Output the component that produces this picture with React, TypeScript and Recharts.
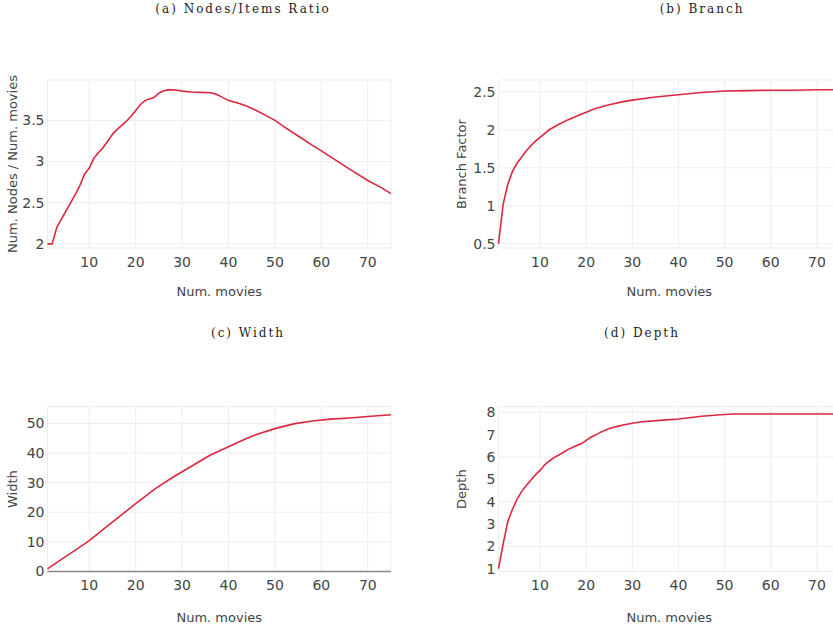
import { CartesianGrid, Line, LineChart, ReferenceLine, XAxis, YAxis } from 'recharts';

const FONT = 'DejaVu Sans';
const RED = '#dc2741';

// (a) nodes / items ratio
const ratioMovies = [1, 2, 3, 4, 5, 6, 7, 8, 9, 10, 11, 12, 13, 14, 15, 16, 17, 18, 19, 20, 21, 22, 23, 24, 25, 26, 27, 28, 29, 30, 32, 34, 36, 37, 38, 39, 40, 42, 44, 46, 48, 50, 52, 55, 58, 60, 63, 66, 70, 73, 75];
const ratioValues = [2.0, 2.0, 2.2, 2.3, 2.4, 2.5, 2.6, 2.71, 2.85, 2.92, 3.04, 3.11, 3.17, 3.25, 3.33, 3.39, 3.44, 3.49, 3.55, 3.62, 3.69, 3.74, 3.76, 3.78, 3.83, 3.86, 3.87, 3.87, 3.865, 3.855, 3.845, 3.84, 3.835, 3.825, 3.8, 3.77, 3.74, 3.71, 3.67, 3.62, 3.56, 3.5, 3.42, 3.31, 3.2, 3.13, 3.02, 2.91, 2.77, 2.68, 2.61];

// (b) branch factor
const branchMovies = [1, 2, 3, 4, 5, 6, 7, 8, 9, 10, 12, 14, 16, 18, 20, 22, 25, 28, 30, 35, 40, 45, 50, 55, 60, 65, 70, 75];
const branchValues = [0.5, 1.02, 1.28, 1.45, 1.56, 1.64, 1.72, 1.79, 1.85, 1.9, 2.0, 2.07, 2.13, 2.18, 2.23, 2.28, 2.33, 2.37, 2.39, 2.43, 2.46, 2.49, 2.51, 2.515, 2.52, 2.52, 2.525, 2.525];

// (c) width
const widthMovies = [1, 4, 7, 10, 13, 16, 20, 24, 28, 31, 36, 40, 43, 46, 50, 54, 58, 62, 66, 70, 75];
const widthValues = [0.9, 4.1, 7.2, 10.4, 14.2, 17.9, 22.9, 27.7, 31.8, 34.6, 39.2, 42.1, 44.3, 46.2, 48.2, 49.8, 50.8, 51.4, 51.8, 52.3, 52.9];

// (d) depth
const depthMovies = [1, 2, 3, 4, 5, 6, 7, 8, 9, 10, 11, 12, 13, 14, 15, 16, 17, 18, 19, 20, 21, 22, 23, 24, 25, 26, 27, 28, 30, 32, 36, 40, 45, 49, 52, 60, 70, 75];
const depthValues = [1.0, 2.1, 3.1, 3.65, 4.1, 4.45, 4.72, 4.96, 5.2, 5.4, 5.65, 5.82, 5.97, 6.08, 6.2, 6.33, 6.42, 6.51, 6.6, 6.74, 6.88, 6.98, 7.1, 7.19, 7.27, 7.33, 7.38, 7.43, 7.51, 7.58, 7.64, 7.7, 7.82, 7.89, 7.92, 7.92, 7.92, 7.92];

const xTicks = [10, 20, 30, 40, 50, 60, 70];
const ratioTicks = [2, 2.5, 3, 3.5];
const branchTicks = [0.5, 1, 1.5, 2, 2.5];
const widthTicks = [0, 10, 20, 30, 40, 50];
const depthTicks = [1, 2, 3, 4, 5, 6, 7, 8];

const titles = ['(a) Nodes/Items Ratio', '(b) Branch', '(c) Width', '(d) Depth'];

const toRows = (xs: number[], ys: number[]) => xs.map((x, i) => ({ x, y: ys[i] }));

interface PanelProps {
	left: number;
	top: number;
	height: number;
	margin: { top: number; right: number; bottom: number; left: number };
	yWidth: number;
	xHeight: number;
	data: { x: number; y: number }[];
	yDomain: [number, number];
	yTicks: number[];
	yLabel: string;
	yLabelOffset: number;
	xLabelOffset: number;
	zeroLine?: boolean;
}

const Panel = (p: PanelProps) => {
	const tick = { fill: '#444', fontSize: 14, fontFamily: FONT };
	return (
		<div style={{ position: 'absolute', left: p.left, top: p.top }}>
			<LineChart width={420} height={p.height} data={p.data} margin={p.margin}>
				<CartesianGrid stroke='#ededed' />
				<XAxis
					dataKey='x'
					type='number'
					domain={[1, 75]}
					ticks={xTicks}
					height={p.xHeight}
					axisLine={false}
					tickLine={false}
					tickSize={0}
					tickMargin={9}
					tick={tick}
					label={{
						value: 'Num. movies',
						position: 'insideBottom',
						offset: p.xLabelOffset,
						style: { fill: '#444', fontSize: 13, fontFamily: FONT },
					}}
				/>
				<YAxis
					type='number'
					domain={p.yDomain}
					ticks={p.yTicks}
					width={p.yWidth}
					axisLine={false}
					tickLine={false}
					tickSize={0}
					tickMargin={3}
					tick={tick}
					allowDataOverflow
					label={{
						value: p.yLabel,
						angle: -90,
						position: 'insideLeft',
						offset: p.yLabelOffset,
						style: { textAnchor: 'middle', fill: '#444', fontSize: 13, fontFamily: FONT },
					}}
				/>
				{p.zeroLine && <ReferenceLine y={0} stroke='#8a8a8a' strokeWidth={1.5} />}
				<Line
					dataKey='y'
					type='linear'
					stroke={RED}
					strokeWidth={1.6}
					dot={false}
					isAnimationActive={false}
				/>
			</LineChart>
		</div>
	);
};

const titleStyle = (cx: number, cy: number): React.CSSProperties => ({
	position: 'absolute',
	left: cx,
	top: cy - 7,
	transform: 'translateX(-50%)',
	whiteSpace: 'nowrap',
	fontFamily: 'DejaVu Serif',
	fontSize: 12,
	lineHeight: '14px',
	letterSpacing: 2,
	color: '#222',
});

const App = () => {
	return (
		<div
			style={{
				position: 'absolute',
				left: 0,
				top: 0,
				width: 833,
				height: 628,
				overflow: 'hidden',
				background: '#fff',
			}}
		>
			<div style={titleStyle(243, 9)}>{titles[0]}</div>
			<div style={titleStyle(702, 9)}>{titles[1]}</div>
			<div style={titleStyle(248, 333)}>{titles[2]}</div>
			<div style={titleStyle(642, 333)}>{titles[3]}</div>

			<Panel
				left={0}
				top={0}
				height={300}
				margin={{ top: 80, right: 29, bottom: 0, left: 0 }}
				yWidth={47.5}
				xHeight={52}
				data={toRows(ratioMovies, ratioValues)}
				yDomain={[1.95, 3.99]}
				yTicks={ratioTicks}
				yLabel='Num. Nodes / Num. movies'
				yLabelOffset={12.7}
				xLabelOffset={4}
			/>
			<Panel
				left={420}
				top={0}
				height={300}
				margin={{ top: 80, right: 0, bottom: 0, left: 0 }}
				yWidth={78.5}
				xHeight={52}
				data={toRows(branchMovies, branchValues)}
				yDomain={[0.447, 2.654]}
				yTicks={branchTicks}
				yLabel='Branch Factor'
				yLabelOffset={41.7}
				xLabelOffset={4}
			/>
			<Panel
				left={0}
				top={320}
				height={308}
				margin={{ top: 86.7, right: 29, bottom: 0, left: 0 }}
				yWidth={47.5}
				xHeight={56.5}
				data={toRows(widthMovies, widthValues)}
				yDomain={[0, 55.6]}
				yTicks={widthTicks}
				yLabel='Width'
				yLabelOffset={12.3}
				xLabelOffset={6}
				zeroLine
			/>
			<Panel
				left={420}
				top={320}
				height={308}
				margin={{ top: 86.7, right: 0, bottom: 0, left: 0 }}
				yWidth={78.5}
				xHeight={56.5}
				data={toRows(depthMovies, depthValues)}
				yDomain={[0.875, 8.25]}
				yTicks={depthTicks}
				yLabel='Depth'
				yLabelOffset={41.7}
				xLabelOffset={6}
			/>
		</div>
	);
};

export default App;
